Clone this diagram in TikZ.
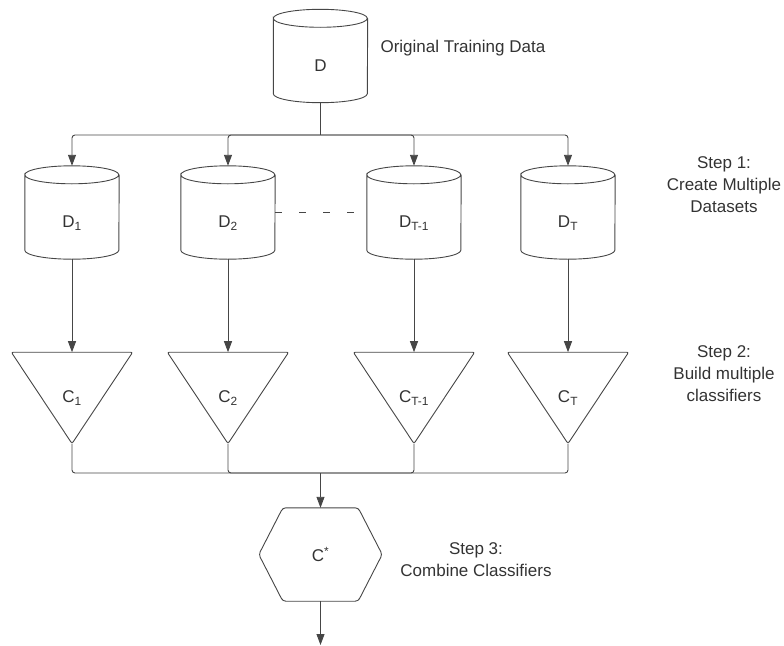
\documentclass[tikz,border=0pt]{standalone}
\usepackage{fontspec}
\setmainfont{Liberation Sans}
\usetikzlibrary{positioning, calc, arrows.meta}
\definecolor{linegray}{RGB}{70,70,70}
\definecolor{textgray}{RGB}{51,51,51}

\begin{document}
\begin{tikzpicture}[x=1pt, y=1pt,
font=\fontsize{17}{22}\selectfont, text=textgray,
dataset/.style={minimum width=94pt, minimum height=93pt, inner sep=0pt, text height=30pt, text depth=0pt},
classifier/.style={minimum width=121pt, minimum height=91pt, inner sep=0pt},
combiner/.style={minimum width=123pt, minimum height=93pt, inner sep=0pt},
outline/.style={draw=linegray, line width=0.9pt},
link/.style={draw=linegray, line width=0.9pt, rounded corners=3pt},
arrow/.style={link, -{Triangle[length=11pt, width=8pt]}},
steplabel/.style={align=center}
]
\useasboundingbox (0,0) rectangle (784,-645);

% Original data
\node[dataset] (D) at (320.5,-56) {D};
\node[anchor=west] (origlabel) at (377,-48) {Original Training Data};

% Step 1 - bootstrap datasets
\node[dataset] (d1) at (72,-212.5) {D\textsubscript{1}};
\node[dataset] (d2) at (228,-212.5) {D\textsubscript{2}};
\node[dataset] (dT1) at (414,-212.5) {D\textsubscript{T-1}};
\node[dataset] (dT) at (568,-212.5) {D\textsubscript{T}};
\node[steplabel] (step1) at (724,-185) {Step 1:\\Create Multiple\\Datasets};

% Step 2 - classifiers
\node[classifier, below=93pt of d1] (c1) {C\textsubscript{1}};
\node[classifier, below=93pt of d2] (c2) {C\textsubscript{2}};
\node[classifier, below=93pt of dT1] (cT1) {C\textsubscript{T-1}};
\node[classifier, below=93pt of dT] (cT) {C\textsubscript{T}};
\node[steplabel] (step2) at (724,-374) {Step 2:\\Build multiple\\classifiers};

% Step 3 - combined classifier
\node[combiner] (cstar) at (320.5,-554.5) {C\textsuperscript{*}};
\node[steplabel] (step3) at (476,-560) {Step 3:\\Combine Classifiers};

% Shape outlines
\foreach \n in {D,d1,d2,dT1,dT}
  \draw[outline] ([yshift=-9pt]\n.north west) arc[start angle=180, end angle=-180, x radius=47pt, y radius=9pt]
    -- ([yshift=9pt]\n.south west) arc[start angle=180, end angle=360, x radius=47pt, y radius=9pt]
    -- ([yshift=-9pt]\n.north east);
\foreach \m in {c1,c2,cT1,cT}
  \draw[outline, rounded corners=2pt] (\m.north west) -- (\m.north east) -- (\m.south) -- cycle;
\draw[outline, rounded corners=3pt] ([xshift=24pt]cstar.north west) -- ([xshift=-24pt]cstar.north east) -- (cstar.east)
  -- ([xshift=-24pt]cstar.south east) -- ([xshift=24pt]cstar.south west) -- (cstar.west) -- cycle;

% Split into datasets
\coordinate (split) at (320.5,-135);
\draw[link] (D.south) -- (split);
\foreach \n in {d1,d2,dT1,dT}
  \draw[arrow] (split) -| (\n.north);
\draw[link, dash pattern=on 7pt off 17pt] (d2.east) -- (dT1.west);

% Datasets to classifiers
\foreach \n/\m in {d1/c1,d2/c2,dT1/cT1,dT/cT}
  \draw[arrow] (\n.south) -- (\m.north);

% Merge classifiers
\coordinate (merge) at (320.5,-473);
\foreach \m in {c1,c2,cT1,cT}
  \draw[link] (\m.south) |- (merge);
\draw[arrow] (merge) -- (cstar.north);
\coordinate (out) at (320.5,-645);
\draw[arrow] (cstar.south) -- (out);

\end{tikzpicture}
\end{document}
